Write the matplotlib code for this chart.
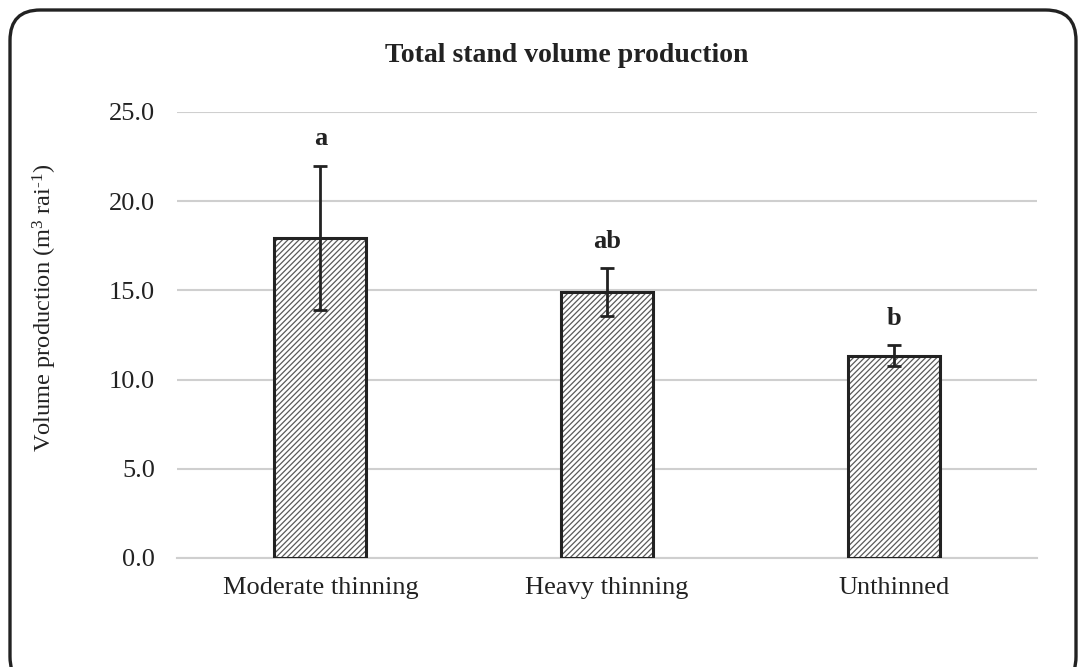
import numpy as np
import matplotlib
matplotlib.use('Agg')
import matplotlib.pyplot as plt
from matplotlib.patches import FancyBboxPatch

plt.rcParams['font.family'] = ['Liberation Serif', 'DejaVu Serif']
plt.rcParams['mathtext.fontset'] = 'custom'
plt.rcParams['mathtext.rm'] = 'Liberation Serif'
plt.rcParams['mathtext.it'] = 'Liberation Serif:italic'
plt.rcParams['hatch.linewidth'] = 0.9

# data
treatments = ['Moderate thinning', 'Heavy thinning', 'Unthinned']
volume = [17.95, 14.9, 11.35]
volume_err = [4.05, 1.35, 0.6]
letters = ['a', 'ab', 'b']
yticks = [0, 5, 10, 15, 20, 25]

fig = plt.figure(figsize=(10.83, 6.67), dpi=100)
ax = fig.add_axes([177/1083, 109/667, 860/1083, 446/667])

x = np.arange(len(treatments))
# gray hatch first, black outline on top
ax.bar(x, volume, width=0.32, color='white', edgecolor='#5a5a5a', hatch='//////',
       linewidth=0, zorder=2)
ax.bar(x, volume, width=0.32, fill=False, edgecolor='#222222', linewidth=2.2, zorder=3)
ax.errorbar(x, volume, yerr=volume_err, fmt='none', ecolor='#222222',
            elinewidth=2, capsize=5, capthick=2, zorder=4)

for i in range(len(x)):
    ax.text(x[i], volume[i] + volume_err[i] + 1.5, letters[i], ha='center', va='center',
            fontsize=19, fontweight='bold', color='#222222')

ax.set_xlim(-0.5, 2.5)
ax.set_ylim(0, 25)
ax.set_yticks(yticks)
ax.set_yticklabels(['%.1f' % v for v in yticks])
ax.set_xticks(x)
ax.set_xticklabels(treatments)
ax.tick_params(axis='both', length=0, labelsize=19, colors='#222222')
ax.tick_params(axis='y', pad=16)
ax.tick_params(axis='x', pad=14)
ax.grid(axis='y', color='#cfcfcf', linewidth=1.5, zorder=0)
ax.set_axisbelow(True)
for s in ['top', 'right', 'left']:
    ax.spines[s].set_visible(False)
ax.spines['bottom'].set_color('#cfcfcf')
ax.spines['bottom'].set_linewidth(1.5)

ax.set_ylabel('Volume production (m$^{3}$ rai$^{\\text{-1}}$)', fontsize=17.6, color='#222222')
ax.yaxis.set_label_coords(-0.137, 0.56)

fig.text(567/1083, 1 - 56/667, 'Total stand volume production', ha='center', va='center',
         fontsize=20, fontweight='bold', color='#222222')

# rounded frame around the chart
frame = FancyBboxPatch((10/1083, -20/667), 1066/1083, 677/667,
                       boxstyle='round,pad=0,rounding_size=0.028',
                       transform=fig.transFigure, fill=False, edgecolor='#222222',
                       linewidth=2.4, mutation_aspect=1083/667)
fig.patches.append(frame)

plt.savefig('out.png', dpi=100)
